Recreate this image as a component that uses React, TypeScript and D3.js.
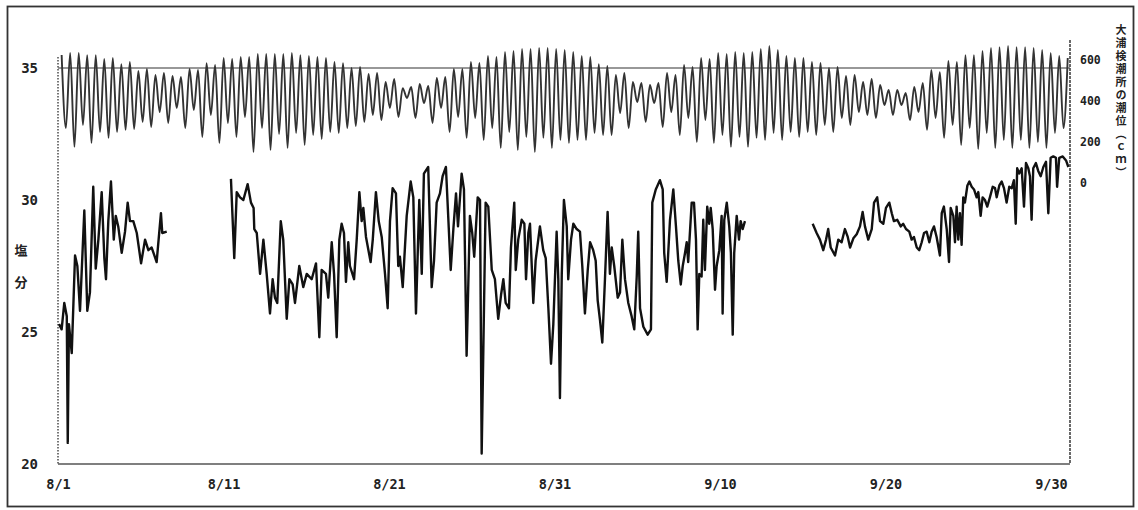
import React, { useEffect, useRef } from 'react';
import * as d3 from 'd3';

// date ticks (days from 8/1)
const dateLabels = ['8/1', '8/11', '8/21', '8/31', '9/10', '9/20', '9/30'];
const dateDays = [0, 10, 20, 30, 40, 50, 60];
const salinityTicks = [20, 25, 30, 35];
const tideTicks = [0, 200, 400, 600];

const tideTitle = '大浦検潮所の潮位（ｃｍ）';

// 大浦検潮所の潮位 (cm): high / low waters
const tideHigh = [
  624, 634, 634, 624, 624, 605, 610, 580, 590, 546, 556, 527, 537, 522, 517, 556, 551, 585, 576, 610, 605, 615, 615, 629,
  629, 629, 629, 634, 624, 620, 615, 610, 590, 585, 561, 566, 532, 537, 493, 507, 463, 468, 483, 473, 512, 517, 556, 556,
  590, 585, 620, 615, 639, 644, 654, 654, 659, 659, 654, 649, 639, 620, 615, 580, 571, 527, 537, 493, 488, 478, 488, 537,
  527, 576, 566, 610, 605, 634, 629, 639, 634, 639, 654, 668, 649, 620, 610, 610, 590, 585, 561, 566, 522, 527, 493, 507, 478,
  454, 454, 439, 468, 488, 551, 541, 595, 590, 624, 624, 644, 659, 663, 668, 663, 663, 659, 649, 634, 620, 610,
];
const tideLow = [
  268, 176, 283, 195, 249, 220, 249, 259, 263, 298, 273, 346, 293, 366, 268, 356, 224, 332, 195, 293, 224, 322, 151, 268,
  161, 239, 171, 244, 185, 234, 215, 249, 244, 268, 278, 298, 332, 307, 366, 322, 415, 317, 390, 293, 366, 249, 322, 220,
  317, 210, 268, 171, 249, 161, 224, 151, 220, 171, 210, 195, 210, 210, 244, 234, 234, 341, 268, 395, 298, 390, 273,
  346, 234, 317, 200, 307, 195, 234, 176, 224, 176, 220, 210, 244, 210, 249, 224, 249, 234, 283, 249, 317, 283, 346, 332, 317,
  380, 332, 380, 307, 346, 259, 317, 220, 283, 185, 268, 166, 244, 171, 210, 171, 210, 171, 200, 171, 244, 268,
];
const tideStartDay = 0.22;
const tideHalfPeriod = 0.2576; // days between high and low water

// 塩分: [day from 8/1, salinity]
const salinity1 = [
  [0.06, 25.3], [0.22, 25.1], [0.38, 26.1], [0.53, 25.6], [0.59, 20.8], [0.66, 25.3], [0.83, 24.2], [1.03, 27.9],
  [1.17, 27.5], [1.33, 25.8], [1.59, 29.6], [1.77, 25.8], [1.93, 26.5], [2.13, 30.5], [2.28, 27.4], [2.44, 28.5],
  [2.64, 30.3], [2.8, 27.8], [2.9, 27.0], [3.04, 29.2], [3.2, 30.7], [3.37, 28.5], [3.49, 29.4], [3.64, 29.0],
  [3.85, 28.0], [4.05, 28.8], [4.21, 29.9], [4.35, 29.2], [4.55, 29.2], [4.76, 28.75], [5.02, 27.6], [5.26, 28.5],
  [5.46, 28.1], [5.66, 28.2], [5.96, 27.65], [6.22, 29.5], [6.3, 28.75], [6.57, 28.8],
];
const salinity2 = [
  [10.45, 30.8], [10.65, 27.8], [10.8, 30.3], [11.0, 30.1], [11.2, 30.0], [11.46, 30.6], [11.66, 29.9], [11.82, 29.7],
  [11.86, 28.9], [12.01, 28.75], [12.21, 27.2], [12.41, 28.5], [12.61, 27.2], [12.81, 25.7], [12.97, 27.0], [13.11, 26.3],
  [13.25, 26.1], [13.46, 29.2], [13.61, 28.5], [13.82, 25.5], [13.98, 27.0], [14.18, 26.8], [14.32, 26.1], [14.58, 27.5],
  [14.82, 26.7], [15.03, 27.2], [15.33, 27.0], [15.59, 27.6], [15.79, 24.8], [15.93, 27.35], [16.19, 27.2], [16.33, 26.3],
  [16.54, 28.4], [16.68, 27.2], [16.84, 24.8], [17.0, 28.5], [17.14, 29.1], [17.28, 28.75], [17.4, 26.9], [17.54, 28.4],
  [17.64, 27.5], [17.89, 27.0], [18.05, 28.5], [18.21, 30.3], [18.35, 29.2], [18.45, 29.7], [18.61, 28.6], [18.89, 27.65],
  [19.02, 28.5], [19.21, 30.3], [19.38, 29.2], [19.56, 28.6], [19.76, 27.2], [19.92, 25.9], [20.06, 29.2], [20.22, 30.45],
  [20.42, 30.25], [20.56, 27.5], [20.66, 27.85], [20.83, 26.7], [21.07, 29.4], [21.31, 30.7], [21.47, 30.1], [21.63, 25.7],
  [21.83, 30.0], [21.98, 27.2], [22.11, 31.0], [22.37, 31.25], [22.58, 26.7], [22.72, 27.7], [22.88, 29.9], [23.08, 30.25],
  [23.24, 30.9], [23.44, 31.25], [23.73, 27.35], [23.89, 28.9], [24.05, 30.25], [24.17, 29.0], [24.39, 31.0], [24.53, 30.4],
  [24.69, 24.1], [24.89, 29.4], [25.03, 28.75], [25.15, 27.85], [25.36, 30.1], [25.5, 30.0], [25.6, 20.4], [25.7, 24.3],
  [25.84, 29.9], [26.0, 29.75], [26.21, 27.35], [26.4, 27.0], [26.6, 25.5], [26.77, 26.4], [26.91, 27.0], [27.05, 26.1],
  [27.25, 25.9], [27.37, 28.2], [27.57, 29.9], [27.66, 27.35], [27.81, 28.5], [28.02, 29.25], [28.18, 29.1], [28.28, 27.0],
  [28.42, 28.75], [28.52, 29.1], [28.72, 26.1], [28.86, 27.7], [29.12, 29.0], [29.32, 28.1], [29.47, 27.8], [29.63, 25.9],
  [29.79, 23.8], [29.93, 25.3], [30.13, 28.8], [30.23, 27.0], [30.33, 22.5], [30.44, 27.2], [30.57, 30.0], [30.74, 29.0],
  [30.83, 27.0], [31.0, 28.5], [31.14, 29.1], [31.34, 28.9], [31.54, 28.8], [31.68, 27.5], [31.84, 25.7], [32.01, 27.35],
  [32.15, 28.4], [32.34, 28.1], [32.49, 27.7], [32.61, 26.2], [32.75, 25.45], [32.89, 24.6], [33.05, 27.0], [33.21, 29.55],
  [33.35, 27.2], [33.46, 28.2], [33.61, 27.5], [33.82, 26.3], [33.96, 26.5], [34.1, 28.5], [34.26, 27.0], [34.46, 26.1],
  [34.66, 25.6], [34.82, 25.1], [34.97, 27.1], [35.06, 28.8], [35.17, 25.9], [35.37, 25.2], [35.63, 24.9], [35.83, 25.1],
  [35.91, 29.9], [36.12, 30.4], [36.37, 30.75], [36.54, 30.4], [36.63, 28.0], [36.78, 26.9], [36.98, 29.25], [37.18, 30.4],
  [37.34, 29.0], [37.48, 27.7], [37.63, 26.8], [37.75, 27.5], [37.89, 28.0], [37.99, 28.4], [38.08, 27.65], [38.29, 29.9],
  [38.43, 29.9], [38.55, 28.5], [38.65, 25.1], [38.75, 27.2], [38.89, 27.1], [38.99, 29.25], [39.09, 27.35], [39.23, 29.75],
  [39.35, 29.1], [39.44, 29.7], [39.56, 28.9], [39.7, 26.6], [39.8, 27.5], [39.96, 28.1], [40.1, 29.4], [40.16, 25.7],
  [40.26, 29.25], [40.41, 29.9], [40.56, 29.0], [40.66, 28.0], [40.77, 24.9], [40.86, 28.0], [41.01, 29.4], [41.15, 28.5],
  [41.25, 29.2], [41.37, 28.9], [41.51, 29.2],
];
const salinity3 = [
  [45.6, 29.1], [45.84, 28.75], [46.04, 28.5], [46.24, 28.1], [46.41, 28.5], [46.54, 28.9], [46.69, 28.2], [46.95, 27.9],
  [47.15, 28.5], [47.35, 28.4], [47.55, 28.9], [47.72, 28.6], [47.86, 28.2], [48.06, 28.55], [48.26, 28.7], [48.46, 29.0],
  [48.62, 29.55], [48.76, 29.0], [48.96, 28.5], [49.17, 28.9], [49.31, 29.9], [49.5, 30.1], [49.67, 29.2], [49.87, 29.1],
  [50.03, 29.7], [50.23, 29.9], [50.38, 29.5], [50.51, 29.2], [50.71, 29.25], [50.92, 29.0], [51.07, 29.1], [51.24, 28.9],
  [51.44, 28.8], [51.58, 28.5], [51.72, 28.6], [51.89, 28.2], [52.04, 28.1], [52.19, 28.4], [52.33, 28.75], [52.49, 28.8],
  [52.65, 28.4], [52.79, 28.8], [52.93, 29.0], [53.09, 28.6], [53.29, 27.9], [53.4, 29.5], [53.53, 29.75], [53.7, 28.9],
  [53.84, 27.65], [53.94, 29.7], [54.1, 29.4], [54.2, 28.4], [54.3, 29.75], [54.4, 28.5], [54.5, 29.5], [54.6, 28.3],
  [54.7, 30.1], [54.8, 29.9], [54.95, 30.55], [55.07, 30.7], [55.21, 30.5], [55.35, 30.4], [55.51, 30.1], [55.61, 30.3],
  [55.75, 29.4], [55.87, 30.1], [56.01, 30.0], [56.15, 29.75], [56.31, 30.1], [56.48, 30.5], [56.62, 30.45], [56.72, 30.1],
  [56.88, 30.55], [57.02, 30.7], [57.16, 30.45], [57.32, 29.9], [57.48, 30.5], [57.63, 30.45], [57.76, 30.75], [57.87, 29.1],
  [57.96, 31.2], [58.08, 31.0], [58.23, 31.2], [58.37, 29.75], [58.49, 31.4], [58.63, 31.2], [58.73, 30.9], [58.83, 29.25],
  [58.93, 31.2], [59.09, 31.4], [59.23, 31.1], [59.38, 30.9], [59.54, 31.25], [59.7, 31.45], [59.84, 29.5], [59.98, 31.6],
  [60.14, 31.65], [60.3, 31.6], [60.37, 30.5], [60.5, 31.6], [60.71, 31.65], [60.91, 31.5], [61.05, 31.25],
];

const W = 1138;
const H = 510;

const App = () => {
  const ref = useRef<SVGSVGElement>(null);

  useEffect(() => {
    const svg = d3.select(ref.current);
    svg.selectAll('*').remove();

    const x = d3.scaleLinear().domain([0, 61.15]).range([58, 1070]);
    const ySal = d3.scaleLinear().domain([20, 35]).range([464, 68]);
    const yTide = d3.scaleLinear().domain([0, 600]).range([183, 60]);

    svg.append('rect').attr('width', W).attr('height', H).attr('fill', '#fff');

    // outer frame
    svg.append('rect')
      .attr('x', 7.5).attr('y', 6.5).attr('width', 1126).attr('height', 500)
      .attr('fill', 'none').attr('stroke', '#333').attr('stroke-width', 1.8);

    // 35 line
    svg.append('line')
      .attr('x1', x(0)).attr('x2', x(61.15))
      .attr('y1', ySal(35)).attr('y2', ySal(35))
      .attr('stroke', '#333').attr('stroke-width', 1.1);

    // axis lines
    svg.append('line')
      .attr('x1', x(0)).attr('x2', x(0)).attr('y1', 57).attr('y2', ySal(20))
      .attr('stroke', '#555').attr('stroke-width', 1.6).attr('stroke-dasharray', '1.5,1.5');
    svg.append('line')
      .attr('x1', x(61.15)).attr('x2', x(61.15)).attr('y1', 40).attr('y2', ySal(20))
      .attr('stroke', '#444').attr('stroke-width', 1.6).attr('stroke-dasharray', '3,1');
    svg.append('line')
      .attr('x1', x(0)).attr('x2', x(61.15)).attr('y1', ySal(20)).attr('y2', ySal(20))
      .attr('stroke', '#555').attr('stroke-width', 1.6);

    const fontMono = '"DejaVu Sans Mono", monospace';

    const bottom = svg.append('g')
      .attr('transform', `translate(0,${ySal(20)})`)
      .call(
        d3.axisBottom(x)
          .tickValues(dateDays)
          .tickFormat((d, i) => dateLabels[i])
          .tickSize(0)
          .tickPadding(15)
      );
    bottom.select('.domain').remove();
    bottom.selectAll('text')
      .attr('font-family', fontMono).attr('font-size', 13.5).attr('font-weight', 'bold').attr('fill', '#222');

    const left = svg.append('g')
      .attr('transform', `translate(${x(0)},0)`)
      .call(d3.axisLeft(ySal).tickValues(salinityTicks).tickSize(0).tickPadding(20));
    left.select('.domain').remove();
    left.selectAll('text')
      .attr('font-family', fontMono).attr('font-size', 14).attr('font-weight', 'bold').attr('fill', '#222');

    const right = svg.append('g')
      .attr('transform', `translate(${x(61.15)},0)`)
      .call(d3.axisRight(yTide).tickValues(tideTicks).tickSize(0).tickPadding(10));
    right.select('.domain').remove();
    right.selectAll('text')
      .attr('font-family', fontMono).attr('font-size', 11.5).attr('font-weight', 'bold').attr('fill', '#222');

    // 塩分 label
    const cjk = '"Noto Sans CJK JP", sans-serif';
    svg.selectAll('.ylab')
      .data(['塩', '分'])
      .enter()
      .append('text')
      .attr('x', 21)
      .attr('y', (d, i) => 255 + i * 32)
      .attr('text-anchor', 'middle')
      .attr('font-family', cjk).attr('font-size', 13).attr('font-weight', 'bold').attr('fill', '#222')
      .text(d => d);

    // right vertical title
    svg.append('text')
      .attr('x', 1121)
      .attr('y', 24)
      .style('writing-mode', 'vertical-rl')
      .attr('letter-spacing', 2)
      .attr('font-family', cjk).attr('font-size', 11).attr('font-weight', 'bold').attr('fill', '#222')
      .text(tideTitle);

    // tide curve
    const tide = [];
    tideHigh.forEach((h, i) => {
      tide.push([tideStartDay + 2 * i * tideHalfPeriod, h]);
      if (i < tideLow.length) tide.push([tideStartDay + (2 * i + 1) * tideHalfPeriod, tideLow[i]]);
    });
    const tideLine = d3.line()
      .x(d => x(d[0]))
      .y(d => yTide(d[1]))
      .curve(d3.curveMonotoneX);
    svg.append('path')
      .attr('d', tideLine(tide))
      .attr('fill', 'none').attr('stroke', '#333').attr('stroke-width', 1.9);

    // salinity
    const salLine = d3.line()
      .x(d => x(d[0]))
      .y(d => ySal(d[1]));
    [salinity1, salinity2, salinity3].forEach(seg => {
      svg.append('path')
        .attr('d', salLine(seg))
        .attr('fill', 'none').attr('stroke', '#111').attr('stroke-width', 2.4)
        .attr('stroke-linejoin', 'round');
    });
  }, []);

  return (
    <svg
      ref={ref}
      width={W}
      height={H}
      style={{ position: 'absolute', left: 0, top: 0, display: 'block' }}
    />
  );
};

export default App;
